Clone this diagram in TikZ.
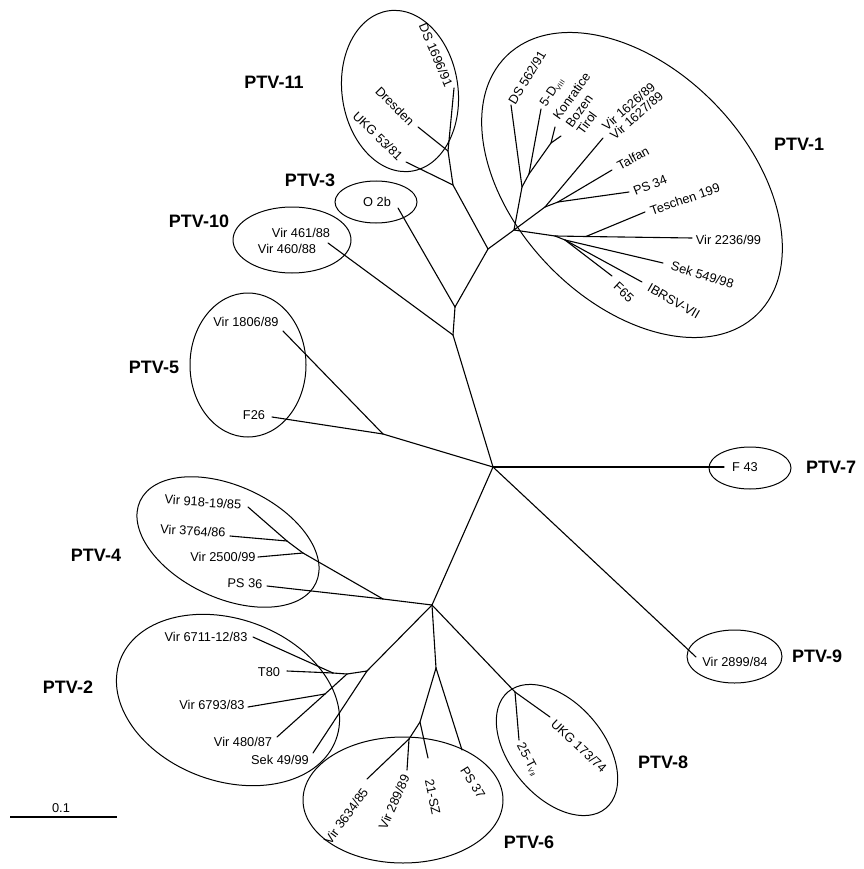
\documentclass[tikz,border=0pt]{standalone}
\usepackage{fontspec}
\setmainfont{Liberation Sans}
\begin{document}
\begin{tikzpicture}[x=1pt,y=1pt,
  br/.style={line width=1.1pt, line cap=round, line join=round},
  grp/.style={draw, line width=1pt},
  lbl/.style={inner sep=0pt, text height=9.3pt, text depth=0pt, font=\fontsize{12.8}{14}\selectfont},
  ptv/.style={inner sep=0pt, text height=13pt, text depth=0pt, font=\fontsize{18}{20}\selectfont\bfseries}]
\useasboundingbox (0,0) rectangle (863,-869);

% ---- group ellipses ----
\draw[grp, rotate around={8:(400,-91)}] (400,-91) ellipse [x radius=58, y radius=81];
\draw[grp] (376,-202) ellipse [x radius=41, y radius=21];
\draw[grp] (292,-240) ellipse [x radius=59, y radius=33];
\draw[grp] (248,-365) ellipse [x radius=58, y radius=72];
\draw[grp, rotate around={-46:(632,-185)}] (632,-185) ellipse [x radius=180, y radius=116];
\draw[grp] (750,-468) ellipse [x radius=41, y radius=21];
\draw[grp] (734.5,-656.5) ellipse [x radius=47.5, y radius=26.5];
\draw[grp, rotate around={-25:(228,-542)}] (228,-542) ellipse [x radius=97, y radius=56];
\draw[grp, rotate around={-20:(228,-700)}] (228,-700) ellipse [x radius=115, y radius=81];
\draw[grp] (403,-800) ellipse [x radius=100, y radius=63];
\draw[grp, rotate around={-50:(557,-750)}] (557,-750) ellipse [x radius=76, y radius=47];

% ---- tree coordinates ----
\coordinate (C) at (493,-467);
\coordinate (D) at (432,-605);
\coordinate (P5) at (383,-434);
\coordinate (U) at (453,-335);
\coordinate (U2) at (455,-307);
\coordinate (V) at (488,-249);
\coordinate (W) at (453,-185);
\coordinate (W2) at (448,-151);
\coordinate (X) at (514,-230);
\coordinate (X1) at (522,-187);
\coordinate (X2) at (529,-174);
\coordinate (X3) at (551,-143);
\coordinate (X4) at (545,-207);
\coordinate (X5) at (558,-202);
\coordinate (X7) at (555,-236);
\coordinate (X6) at (586,-236.5);
\coordinate (X8) at (565,-240);
\coordinate (L) at (383,-599);
\coordinate (L2) at (303,-553);
\coordinate (L3) at (287,-541);
\coordinate (M) at (367,-671);
\coordinate (M2) at (347,-674);
\coordinate (M3) at (333,-673);
\coordinate (M4) at (325,-694);
\coordinate (N) at (436,-668);
\coordinate (N2) at (420,-722);
\coordinate (N3) at (409,-739);
\coordinate (Q) at (515,-692);
% leaf ends
\coordinate (eF43) at (724,-467);
\coordinate (e2899) at (696,-657);
\coordinate (eF26) at (272,-417);
\coordinate (e1806) at (283,-331);
\coordinate (e460) at (328,-243);
\coordinate (eO2b) at (398,-208);
\coordinate (e1696) at (454,-88);
\coordinate (eDres) at (418,-127);
\coordinate (eUKG53) at (406,-162);
\coordinate (eDS562) at (511,-105);
\coordinate (e5D) at (541,-109);
\coordinate (eKon) at (555,-127);
\coordinate (eBoz) at (561,-136);
\coordinate (e1626) at (603,-138);
\coordinate (eTal) at (612,-170);
\coordinate (ePS34) at (629,-192);
\coordinate (eTes) at (645,-212);
\coordinate (e2236) at (692,-238);
\coordinate (eSek549) at (663,-263);
\coordinate (eIBR) at (642,-282);
\coordinate (eF65) at (612,-276);
\coordinate (ePS36) at (267,-586);
\coordinate (e2500) at (258,-557);
\coordinate (e3764) at (230,-536);
\coordinate (e918) at (248,-507);
\coordinate (e6711) at (253,-637);
\coordinate (eT80) at (287,-671);
\coordinate (e6793) at (248,-707);
\coordinate (e480) at (277,-737);
\coordinate (eSek49) at (313,-753);
\coordinate (e3634) at (367,-779);
\coordinate (e289) at (407,-770);
\coordinate (e21) at (428,-758);
\coordinate (ePS37) at (462,-750);
\coordinate (e25) at (519,-740);
\coordinate (eUKG173) at (550,-717);

% ---- branches ----
\draw[br] (C) -- (eF43);
\draw[br] (C) -- (e2899);
\draw[br] (C) -- (D);
\draw[br] (C) -- (P5);
\draw[br] (P5) -- (eF26);
\draw[br] (P5) -- (e1806);
\draw[br] (C) -- (U);
\draw[br] (U) -- (e460);
\draw[br] (U) -- (U2);
\draw[br] (U2) -- (eO2b);
\draw[br] (U2) -- (V);
\draw[br] (V) -- (W);
\draw[br] (W) -- (eUKG53);
\draw[br] (W) -- (W2);
\draw[br] (W2) -- (eDres);
\draw[br] (W2) -- (e1696);
\draw[br] (V) -- (X);
\draw[br] (X) -- (X1);
\draw[br] (X1) -- (eDS562);
\draw[br] (X1) -- (X2);
\draw[br] (X2) -- (e5D);
\draw[br] (X2) -- (X3);
\draw[br] (X3) -- (eKon);
\draw[br] (X3) -- (eBoz);
\draw[br] (X) -- (X4);
\draw[br] (X4) -- (e1626);
\draw[br] (X4) -- (X5);
\draw[br] (X5) -- (eTal);
\draw[br] (X5) -- (ePS34);
\draw[br] (X) -- (X7);
\draw[br] (X7) -- (X6);
\draw[br] (X6) -- (e2236);
\draw[br] (X6) -- (eTes);
\draw[br] (X7) -- (X8);
\draw[br] (X8) -- (eF65);
\draw[br] (X8) -- (eSek549);
\draw[br] (X8) -- (eIBR);
\draw[br] (D) -- (L);
\draw[br] (L) -- (ePS36);
\draw[br] (L) -- (L2);
\draw[br] (L2) -- (e2500);
\draw[br] (L2) -- (L3);
\draw[br] (L3) -- (e3764);
\draw[br] (L3) -- (e918);
\draw[br] (D) -- (M);
\draw[br] (M) -- (eSek49);
\draw[br] (M) -- (M2);
\draw[br] (M2) -- (M3);
\draw[br] (M3) -- (eT80);
\draw[br] (M3) -- (e6711);
\draw[br] (M2) -- (M4);
\draw[br] (M4) -- (e6793);
\draw[br] (M4) -- (e480);
\draw[br] (D) -- (N);
\draw[br] (N) -- (ePS37);
\draw[br] (N) -- (N2);
\draw[br] (N2) -- (e21);
\draw[br] (N2) -- (N3);
\draw[br] (N3) -- (e289);
\draw[br] (N3) -- (e3634);
\draw[br] (D) -- (Q);
\draw[br] (Q) -- (eUKG173);
\draw[br] (Q) -- (e25);

% ---- leaf labels ----
\node[lbl, rotate=-67] (tDS1696) at (436,-55) {DS 1696/91};
\node[lbl, rotate=-45] (tDres) at (395,-106) {Dresden};
\node[lbl, rotate=-44] (tUKG53) at (378,-136) {UKG 53/81};
\node[lbl] (tO2b) at (377,-202) {O 2b};
\node[lbl] (t461) at (301,-233) {Vir 461/88};
\node[lbl] (t460) at (287,-249) {Vir 460/88};
\node[lbl] (t1806) at (246,-322) {Vir 1806/89};
\node[lbl] (tF26) at (254,-415) {F26};
\node[lbl] (tF43) at (745,-467) {F 43};
\node[lbl] (t2899) at (735,-662) {Vir 2899/84};
\node[lbl, rotate=59] (tDS562) at (527,-77.5) {DS 562/91};
\node[lbl, rotate=56] (t5D) at (551,-91.5) {5-D\raisebox{-2pt}{\fontsize{7}{8}\selectfont VIII}};
\node[lbl, rotate=54] (tKon) at (571.5,-96) {Konratice};
\node[lbl, rotate=54] (tBoz) at (579,-111) {Bozen};
\node[lbl, rotate=54] (tTir) at (586.5,-123) {Tirol};
\node[lbl, rotate=41] (t1626) at (628.5,-106.5) {Vir 1626/89};
\node[lbl, rotate=41] (t1627) at (636.5,-115.5) {Vir 1627/89};
\node[lbl, rotate=28] (tTal) at (633,-158) {Talfan};
\node[lbl, rotate=22] (tPS34) at (650,-185) {PS 34};
\node[lbl, rotate=19] (tTes) at (685,-199) {Teschen 199};
\node[lbl] (t2236) at (728.5,-240) {Vir 2236/99};
\node[lbl, rotate=-17] (tSek549) at (702.5,-275) {Sek 549/98};
\node[lbl, rotate=-30] (tIBR) at (674,-301) {IBRSV-VII};
\node[lbl, rotate=-43] (tF65) at (624,-292) {F65};
\node[lbl, rotate=-4] (t918) at (203,-502) {Vir 918-19/85};
\node[lbl, rotate=-3] (t3764) at (193,-531) {Vir 3764/86};
\node[lbl] (t2500) at (223,-557) {Vir 2500/99};
\node[lbl, rotate=-2] (tPS36) at (245,-583) {PS 36};
\node[lbl] (t6711) at (206,-637) {Vir 6711-12/83};
\node[lbl] (tT80) at (269,-672) {T80};
\node[lbl] (t6793) at (212,-705) {Vir 6793/83};
\node[lbl] (t480) at (243,-742) {Vir 480/87};
\node[lbl] (tSek49) at (280,-760) {Sek 49/99};
\node[lbl, rotate=54] (t3634) at (346,-816) {Vir 3634/85};
\node[lbl, rotate=66] (t289) at (394,-802) {Vir 289/89};
\node[lbl, rotate=-78] (t21) at (433,-797) {21-SZ};
\node[lbl, rotate=-58] (tPS37) at (473,-782.5) {PS 37};
\node[lbl, rotate=-62] (t25) at (529,-759) {25-T\raisebox{-2pt}{\fontsize{7}{8}\selectfont VII}};
\node[lbl, rotate=-43] (tUKG173) at (579,-746) {UKG 173/74};

% ---- group labels ----
\node[ptv] (g11) at (274,-82) {PTV-11};
\node[ptv] (g3) at (310,-180) {PTV-3};
\node[ptv] (g10) at (199,-221) {PTV-10};
\node[ptv] (g5) at (154,-367) {PTV-5};
\node[ptv] (g1) at (799,-144) {PTV-1};
\node[ptv] (g7) at (831,-467) {PTV-7};
\node[ptv] (g9) at (817,-656) {PTV-9};
\node[ptv] (g4) at (96,-555) {PTV-4};
\node[ptv] (g2) at (68,-687) {PTV-2};
\node[ptv] (g6) at (529,-842) {PTV-6};
\node[ptv] (g8) at (663,-762) {PTV-8};

% ---- scale bar ----
\coordinate (sb1) at (10,-817);
\coordinate (sb2) at (117,-817);
\draw[line width=1.1pt] (sb1) -- (sb2);
\node[lbl] (sbl) at (61,-808) {0.1};
\end{tikzpicture}
\end{document}
